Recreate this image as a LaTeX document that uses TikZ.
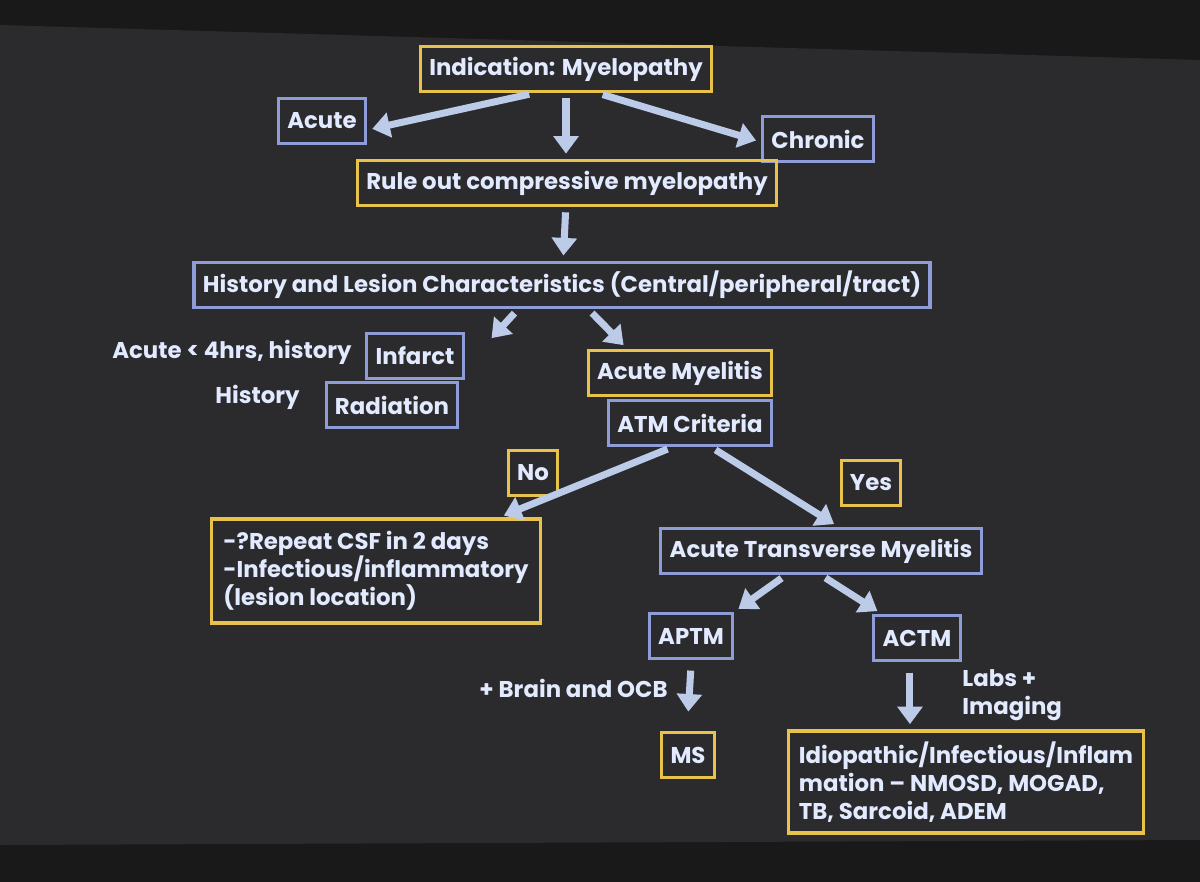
\documentclass[tikz,border=0pt]{standalone}
\usepackage{fontspec}
\setmainfont{Poppins}
\usetikzlibrary{arrows.meta}
\definecolor{bg}{HTML}{2B2B2E}
\definecolor{txt}{HTML}{E2EAFF}
\definecolor{bl}{HTML}{8E9CD8}
\definecolor{yl}{HTML}{E8C24A}
\definecolor{ar}{HTML}{BCCBE8}
\tikzset{
 base/.style={draw,line width=1.8pt,text=txt,font=\fontsize{13}{16}\selectfont\bfseries,inner sep=5pt,minimum height=0.9cm},
 yb/.style={base,draw=yl},
 bb/.style={base,draw=bl},
 lab/.style={text=txt,font=\fontsize{13}{16}\selectfont\bfseries,inner sep=0pt},
 arr/.style={draw=ar,line width=4pt,-{Triangle[length=10pt,width=14pt]},shorten >=3pt,shorten <=3pt}
}
\begin{document}
\begin{tikzpicture}[x=0.02cm,y=-0.02cm]
\fill[black!90] (0,0) rectangle (1200,882);
\fill[bg] (0,25) -- (1200,60) -- (1200,840) -- (0,845) -- cycle;
\useasboundingbox (0,0) rectangle (1200,882);
\node[yb] (ind) at (566,69) {Indication: Myelopathy};
\node[bb] (acute) at (322,121) {Acute};
\node[bb] (chron) at (818,139) {Chronic};
\node[yb] (rule) at (567,183) {Rule out compressive myelopathy};
\node[bb] (hist) at (562,285) {History and Lesion Characteristics (Central/peripheral/tract)};
\node[bb] (inf) at (415,356) {Infarct};
\node[lab,anchor=east] (l1) at (352,352) {Acute < 4hrs, history};
\node[bb] (rad) at (392,405) {Radiation};
\node[lab,anchor=east] (l2) at (300,397) {History};
\node[yb] (am) at (680,373) {Acute Myelitis};
\node[bb] (atm) at (690,423) {ATM Criteria};
\node[yb] (no) at (533,473) {No};
\node[yb] (yes) at (871,483) {Yes};
\node[yb,align=left,inner sep=7pt] (rep) at (376,571) {-?Repeat CSF in 2 days\\-Infectious/inflammatory\\(lesion location)\hspace*{1.4cm}};
\node[bb] (atmy) at (821,551) {Acute Transverse Myelitis};
\node[bb] (aptm) at (691,636) {APTM};
\node[bb] (actm) at (917,638) {ACTM};
\node[yb] (ms) at (688,755) {MS};
\node[yb,align=left,inner sep=6pt] (idio) at (966,782) {Idiopathic/Infectious/Inflam\\mation -- NMOSD, MOGAD,\\TB, Sarcoid, ADEM};
\node[lab,anchor=east] (l3) at (668,688) {+ Brain and OCB};
\node[lab,align=left,anchor=west] (l4) at (962,695) {Labs +\\Imaging};
\coordinate (c1) at (410,130); \coordinate (c3) at (722,142);
\coordinate (c4) at (488,342);
\draw[arr] ([xshift=-18pt]ind.south) -- (acute.east |- c1);
\draw[arr] (ind.south) -- (ind.south |- rule.north);
\draw[arr] ([xshift=18pt]ind.south) -- (chron.west |- c3);
\draw[arr] (rule) -- (hist);
\draw[arr] ([xshift=-25pt]hist.south) -- (c4);
\draw[arr] ([xshift=15pt]hist.south) -- ([xshift=-30pt]am.north);
\draw[arr] ([xshift=-10pt]atm.south) -- ([xshift=70pt]rep.north);
\draw[arr] ([xshift=12pt]atm.south) -- ([xshift=10pt]atmy.north);
\draw[arr] ([xshift=-20pt]atmy.south) -- (aptm.north east);
\draw[arr] ([xshift=0pt]atmy.south) -- ([xshift=-20pt]actm.north);
\draw[arr] ([yshift=-3pt]aptm.south) -- ([yshift=8pt]ms.north);
\draw[arr] ([xshift=-4pt,yshift=-3pt]actm.south) -- ([xshift=-4pt]actm.south |- idio.north);
\end{tikzpicture}
\end{document}
